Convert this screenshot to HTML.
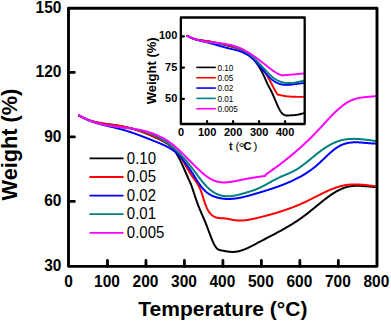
<!DOCTYPE html>
<html><head><meta charset="utf-8"><style>
html,body{margin:0;padding:0;background:#fff;width:391px;height:321px;overflow:hidden;}
svg{display:block;position:absolute;left:0;top:0;}
text{font-family:"Liberation Sans",sans-serif;}
</style></head><body>
<svg width="391" height="321" viewBox="0 0 391 321">
<g fill="none" stroke-width="2" stroke-linejoin="round" stroke-linecap="round">
<path d="M79.00,115.46 L79.50,115.76 L80.00,116.05 L80.50,116.34 L81.00,116.61 L81.50,116.88 L82.00,117.15 L82.50,117.40 L83.00,117.65 L83.50,117.90 L84.00,118.13 L84.50,118.36 L85.00,118.59 L85.50,118.80 L86.00,119.02 L86.50,119.22 L87.00,119.42 L87.50,119.62 L88.00,119.81 L88.50,119.99 L89.00,120.17 L89.50,120.35 L90.00,120.52 L90.50,120.68 L91.00,120.84 L91.50,120.99 L92.00,121.14 L92.50,121.29 L93.00,121.43 L93.50,121.57 L94.00,121.70 L94.50,121.83 L95.00,121.96 L95.50,122.08 L96.00,122.20 L96.50,122.31 L97.00,122.42 L97.50,122.53 L98.00,122.64 L98.50,122.74 L99.00,122.84 L99.50,122.93 L100.00,123.03 L100.50,123.12 L101.00,123.21 L101.50,123.29 L102.00,123.38 L102.50,123.46 L103.00,123.54 L103.50,123.62 L104.00,123.70 L104.50,123.77 L105.00,123.85 L105.50,123.92 L106.00,123.99 L106.50,124.06 L107.00,124.13 L107.50,124.20 L108.00,124.26 L108.50,124.33 L109.00,124.40 L109.50,124.46 L110.00,124.53 L110.50,124.59 L111.00,124.66 L111.50,124.73 L112.00,124.79 L112.50,124.86 L113.00,124.92 L113.50,124.99 L114.00,125.06 L114.50,125.13 L115.00,125.20 L115.50,125.27 L116.00,125.34 L116.50,125.41 L117.00,125.49 L117.50,125.56 L118.00,125.64 L118.50,125.72 L119.00,125.80 L119.50,125.88 L120.00,125.96 L120.50,126.05 L121.00,126.14 L121.50,126.23 L122.00,126.33 L122.50,126.42 L123.00,126.52 L123.50,126.62 L124.00,126.72 L124.50,126.83 L125.00,126.94 L125.50,127.05 L126.00,127.16 L126.50,127.27 L127.00,127.39 L127.50,127.51 L128.00,127.63 L128.50,127.75 L129.00,127.88 L129.50,128.00 L130.00,128.13 L130.50,128.27 L131.00,128.40 L131.50,128.54 L132.00,128.67 L132.50,128.81 L133.00,128.96 L133.50,129.10 L134.00,129.25 L134.50,129.40 L135.00,129.55 L135.50,129.70 L136.00,129.86 L136.50,130.02 L137.00,130.17 L137.50,130.34 L138.00,130.50 L138.50,130.67 L139.00,130.83 L139.50,131.00 L140.00,131.18 L140.50,131.35 L141.00,131.53 L141.50,131.70 L142.00,131.88 L142.50,132.07 L143.00,132.25 L143.50,132.44 L144.00,132.62 L144.50,132.81 L145.00,133.01 L145.50,133.20 L146.00,133.40 L146.50,133.60 L147.00,133.80 L147.50,134.00 L148.00,134.20 L148.50,134.41 L149.00,134.62 L149.50,134.83 L150.00,135.04 L150.50,135.25 L151.00,135.47 L151.50,135.68 L152.00,135.90 L152.50,136.12 L153.00,136.35 L153.50,136.57 L154.00,136.80 L154.50,137.03 L155.00,137.26 L155.50,137.49 L156.00,137.73 L156.50,137.96 L157.00,138.20 L157.50,138.44 L158.00,138.68 L158.50,138.92 L159.00,139.17 L159.50,139.42 L160.00,139.67 L160.50,139.92 L161.00,140.17 L161.50,140.42 L162.00,140.68 L162.50,140.94 L163.00,141.20 L163.50,141.46 L164.00,141.72 L164.50,141.99 L165.00,142.27 L165.50,142.55 L166.00,142.84 L166.50,143.14 L167.00,143.46 L167.50,143.78 L168.00,144.13 L168.50,144.48 L169.00,144.86 L169.50,145.25 L170.00,145.67 L170.50,146.11 L171.00,146.57 L171.50,147.05 L172.00,147.56 L172.50,148.10 L173.00,148.67 L173.50,149.26 L174.00,149.89 L174.50,150.56 L175.00,151.26 L175.50,151.99 L176.00,152.75 L176.50,153.55 L177.00,154.37 L177.50,155.23 L178.00,156.11 L178.50,157.03 L179.00,157.97 L179.50,158.93 L180.00,159.92 L180.50,160.93 L181.00,161.97 L181.50,163.02 L182.00,164.10 L182.50,165.20 L183.00,166.31 L183.50,167.44 L184.00,168.59 L184.50,169.74 L185.00,170.91 L185.50,172.07 L186.00,173.23 L186.50,174.39 L187.00,175.53 L187.50,176.66 L188.00,177.78 L188.50,178.87 L189.00,179.94 L189.50,181.02 L190.00,182.13 L190.50,183.27 L191.00,184.48 L191.50,185.76 L192.00,187.14 L192.50,188.59 L193.00,190.10 L193.50,191.65 L194.00,193.21 L194.50,194.77 L195.00,196.32 L195.50,197.82 L196.00,199.28 L196.50,200.71 L197.00,202.10 L197.50,203.46 L198.00,204.78 L198.50,206.07 L199.00,207.33 L199.50,208.56 L200.00,209.77 L200.50,210.96 L201.00,212.13 L201.50,213.29 L202.00,214.45 L202.50,215.60 L203.00,216.75 L203.50,217.91 L204.00,219.08 L204.50,220.26 L205.00,221.46 L205.50,222.68 L206.00,223.92 L206.50,225.19 L207.00,226.49 L207.50,227.82 L208.00,229.15 L208.50,230.50 L209.00,231.84 L209.50,233.18 L210.00,234.51 L210.50,235.83 L211.00,237.12 L211.50,238.38 L212.00,239.60 L212.50,240.78 L213.00,241.92 L213.50,243.00 L214.00,244.01 L214.50,244.96 L215.00,245.84 L215.50,246.63 L216.00,247.34 L216.50,247.96 L217.00,248.48 L217.50,248.91 L218.00,249.26 L218.50,249.54 L219.00,249.77 L219.50,249.95 L220.00,250.10 L220.50,250.22 L221.00,250.32 L221.50,250.42 L222.00,250.52 L222.50,250.62 L223.00,250.72 L223.50,250.82 L224.00,250.92 L224.50,251.01 L225.00,251.10 L225.50,251.19 L226.00,251.27 L226.50,251.36 L227.00,251.43 L227.50,251.51 L228.00,251.57 L228.50,251.64 L229.00,251.69 L229.50,251.75 L230.00,251.79 L230.50,251.83 L231.00,251.86 L231.50,251.89 L232.00,251.90 L232.50,251.91 L233.00,251.91 L233.50,251.90 L234.00,251.88 L234.50,251.86 L235.00,251.82 L235.50,251.77 L236.00,251.71 L236.50,251.64 L237.00,251.56 L237.50,251.48 L238.00,251.38 L238.50,251.27 L239.00,251.16 L239.50,251.03 L240.00,250.90 L240.50,250.76 L241.00,250.62 L241.50,250.46 L242.00,250.30 L242.50,250.13 L243.00,249.95 L243.50,249.77 L244.00,249.58 L244.50,249.39 L245.00,249.19 L245.50,248.98 L246.00,248.77 L246.50,248.55 L247.00,248.33 L247.50,248.10 L248.00,247.87 L248.50,247.64 L249.00,247.40 L249.50,247.16 L250.00,246.91 L250.50,246.66 L251.00,246.41 L251.50,246.15 L252.00,245.90 L252.50,245.64 L253.00,245.37 L253.50,245.11 L254.00,244.85 L254.50,244.58 L255.00,244.31 L255.50,244.04 L256.00,243.78 L256.50,243.51 L257.00,243.24 L257.50,242.97 L258.00,242.70 L258.50,242.43 L259.00,242.17 L259.50,241.90 L260.00,241.63 L260.50,241.37 L261.00,241.11 L261.50,240.84 L262.00,240.58 L262.50,240.32 L263.00,240.05 L263.50,239.79 L264.00,239.53 L264.50,239.27 L265.00,239.01 L265.50,238.75 L266.00,238.49 L266.50,238.23 L267.00,237.97 L267.50,237.71 L268.00,237.45 L268.50,237.19 L269.00,236.93 L269.50,236.67 L270.00,236.41 L270.50,236.15 L271.00,235.89 L271.50,235.63 L272.00,235.37 L272.50,235.10 L273.00,234.84 L273.50,234.58 L274.00,234.32 L274.50,234.05 L275.00,233.79 L275.50,233.52 L276.00,233.26 L276.50,232.99 L277.00,232.73 L277.50,232.46 L278.00,232.19 L278.50,231.92 L279.00,231.65 L279.50,231.38 L280.00,231.11 L280.50,230.84 L281.00,230.56 L281.50,230.29 L282.00,230.01 L282.50,229.73 L283.00,229.45 L283.50,229.17 L284.00,228.89 L284.50,228.61 L285.00,228.32 L285.50,228.04 L286.00,227.75 L286.50,227.46 L287.00,227.17 L287.50,226.88 L288.00,226.59 L288.50,226.29 L289.00,225.99 L289.50,225.70 L290.00,225.39 L290.50,225.09 L291.00,224.79 L291.50,224.48 L292.00,224.17 L292.50,223.86 L293.00,223.55 L293.50,223.23 L294.00,222.92 L294.50,222.60 L295.00,222.28 L295.50,221.95 L296.00,221.63 L296.50,221.30 L297.00,220.97 L297.50,220.63 L298.00,220.30 L298.50,219.96 L299.00,219.62 L299.50,219.27 L300.00,218.93 L300.50,218.58 L301.00,218.23 L301.50,217.87 L302.00,217.51 L302.50,217.15 L303.00,216.79 L303.50,216.42 L304.00,216.05 L304.50,215.68 L305.00,215.31 L305.50,214.93 L306.00,214.55 L306.50,214.16 L307.00,213.77 L307.50,213.38 L308.00,212.99 L308.50,212.60 L309.00,212.20 L309.50,211.80 L310.00,211.40 L310.50,211.00 L311.00,210.59 L311.50,210.19 L312.00,209.78 L312.50,209.38 L313.00,208.97 L313.50,208.56 L314.00,208.15 L314.50,207.74 L315.00,207.33 L315.50,206.92 L316.00,206.50 L316.50,206.09 L317.00,205.68 L317.50,205.27 L318.00,204.86 L318.50,204.45 L319.00,204.04 L319.50,203.64 L320.00,203.23 L320.50,202.83 L321.00,202.42 L321.50,202.02 L322.00,201.62 L322.50,201.22 L323.00,200.82 L323.50,200.43 L324.00,200.04 L324.50,199.65 L325.00,199.26 L325.50,198.87 L326.00,198.49 L326.50,198.11 L327.00,197.74 L327.50,197.37 L328.00,197.00 L328.50,196.63 L329.00,196.27 L329.50,195.91 L330.00,195.56 L330.50,195.21 L331.00,194.86 L331.50,194.52 L332.00,194.19 L332.50,193.86 L333.00,193.53 L333.50,193.21 L334.00,192.89 L334.50,192.58 L335.00,192.28 L335.50,191.98 L336.00,191.68 L336.50,191.39 L337.00,191.11 L337.50,190.84 L338.00,190.57 L338.50,190.31 L339.00,190.05 L339.50,189.80 L340.00,189.56 L340.50,189.32 L341.00,189.10 L341.50,188.88 L342.00,188.66 L342.50,188.46 L343.00,188.26 L343.50,188.07 L344.00,187.89 L344.50,187.72 L345.00,187.55 L345.50,187.40 L346.00,187.25 L346.50,187.11 L347.00,186.98 L347.50,186.86 L348.00,186.74 L348.50,186.63 L349.00,186.53 L349.50,186.44 L350.00,186.35 L350.50,186.27 L351.00,186.20 L351.50,186.13 L352.00,186.07 L352.50,186.02 L353.00,185.97 L353.50,185.93 L354.00,185.90 L354.50,185.86 L355.00,185.84 L355.50,185.82 L356.00,185.80 L356.50,185.79 L357.00,185.78 L357.50,185.78 L358.00,185.78 L358.50,185.79 L359.00,185.80 L359.50,185.81 L360.00,185.83 L360.50,185.85 L361.00,185.87 L361.50,185.90 L362.00,185.93 L362.50,185.96 L363.00,185.99 L363.50,186.03 L364.00,186.07 L364.50,186.11 L365.00,186.15 L365.50,186.19 L366.00,186.23 L366.50,186.28 L367.00,186.33 L367.50,186.37 L368.00,186.42 L368.50,186.47 L369.00,186.52 L369.50,186.56 L370.00,186.61 L370.50,186.66 L371.00,186.71 L371.50,186.75 L372.00,186.80 L372.50,186.84 L373.00,186.89 L373.50,186.93 L374.00,186.97 L374.50,187.01 L375.00,187.05 L375.30,187.07" stroke="#000000"/>
<path d="M79.00,115.52 L79.50,115.81 L80.00,116.09 L80.50,116.37 L81.00,116.64 L81.50,116.90 L82.00,117.15 L82.50,117.40 L83.00,117.64 L83.50,117.88 L84.00,118.11 L84.50,118.33 L85.00,118.55 L85.50,118.76 L86.00,118.97 L86.50,119.17 L87.00,119.37 L87.50,119.56 L88.00,119.74 L88.50,119.92 L89.00,120.10 L89.50,120.27 L90.00,120.44 L90.50,120.60 L91.00,120.75 L91.50,120.91 L92.00,121.05 L92.50,121.20 L93.00,121.34 L93.50,121.47 L94.00,121.61 L94.50,121.73 L95.00,121.86 L95.50,121.98 L96.00,122.10 L96.50,122.21 L97.00,122.32 L97.50,122.43 L98.00,122.54 L98.50,122.64 L99.00,122.74 L99.50,122.84 L100.00,122.93 L100.50,123.02 L101.00,123.11 L101.50,123.20 L102.00,123.29 L102.50,123.37 L103.00,123.45 L103.50,123.53 L104.00,123.61 L104.50,123.69 L105.00,123.76 L105.50,123.84 L106.00,123.91 L106.50,123.98 L107.00,124.05 L107.50,124.12 L108.00,124.19 L108.50,124.26 L109.00,124.33 L109.50,124.39 L110.00,124.46 L110.50,124.53 L111.00,124.60 L111.50,124.66 L112.00,124.73 L112.50,124.80 L113.00,124.86 L113.50,124.93 L114.00,125.00 L114.50,125.07 L115.00,125.14 L115.50,125.21 L116.00,125.28 L116.50,125.36 L117.00,125.43 L117.50,125.51 L118.00,125.59 L118.50,125.66 L119.00,125.74 L119.50,125.83 L120.00,125.91 L120.50,126.00 L121.00,126.09 L121.50,126.18 L122.00,126.27 L122.50,126.36 L123.00,126.46 L123.50,126.56 L124.00,126.66 L124.50,126.76 L125.00,126.87 L125.50,126.98 L126.00,127.09 L126.50,127.20 L127.00,127.31 L127.50,127.43 L128.00,127.54 L128.50,127.66 L129.00,127.78 L129.50,127.91 L130.00,128.03 L130.50,128.16 L131.00,128.29 L131.50,128.42 L132.00,128.56 L132.50,128.70 L133.00,128.83 L133.50,128.97 L134.00,129.12 L134.50,129.26 L135.00,129.41 L135.50,129.56 L136.00,129.71 L136.50,129.86 L137.00,130.01 L137.50,130.17 L138.00,130.33 L138.50,130.49 L139.00,130.65 L139.50,130.82 L140.00,130.98 L140.50,131.15 L141.00,131.32 L141.50,131.49 L142.00,131.67 L142.50,131.84 L143.00,132.02 L143.50,132.20 L144.00,132.39 L144.50,132.57 L145.00,132.76 L145.50,132.95 L146.00,133.14 L146.50,133.33 L147.00,133.52 L147.50,133.72 L148.00,133.92 L148.50,134.12 L149.00,134.32 L149.50,134.52 L150.00,134.73 L150.50,134.94 L151.00,135.15 L151.50,135.36 L152.00,135.57 L152.50,135.79 L153.00,136.01 L153.50,136.22 L154.00,136.45 L154.50,136.67 L155.00,136.89 L155.50,137.12 L156.00,137.35 L156.50,137.58 L157.00,137.81 L157.50,138.05 L158.00,138.29 L158.50,138.52 L159.00,138.76 L159.50,139.01 L160.00,139.25 L160.50,139.50 L161.00,139.75 L161.50,140.00 L162.00,140.25 L162.50,140.51 L163.00,140.77 L163.50,141.04 L164.00,141.32 L164.50,141.60 L165.00,141.88 L165.50,142.18 L166.00,142.48 L166.50,142.79 L167.00,143.11 L167.50,143.43 L168.00,143.77 L168.50,144.12 L169.00,144.48 L169.50,144.85 L170.00,145.23 L170.50,145.62 L171.00,146.03 L171.50,146.45 L172.00,146.89 L172.50,147.34 L173.00,147.80 L173.50,148.28 L174.00,148.78 L174.50,149.29 L175.00,149.82 L175.50,150.37 L176.00,150.94 L176.50,151.52 L177.00,152.12 L177.50,152.75 L178.00,153.39 L178.50,154.06 L179.00,154.74 L179.50,155.45 L180.00,156.18 L180.50,156.94 L181.00,157.71 L181.50,158.51 L182.00,159.32 L182.50,160.14 L183.00,160.98 L183.50,161.83 L184.00,162.69 L184.50,163.55 L185.00,164.42 L185.50,165.29 L186.00,166.17 L186.50,167.04 L187.00,167.91 L187.50,168.78 L188.00,169.63 L188.50,170.48 L189.00,171.32 L189.50,172.14 L190.00,172.95 L190.50,173.74 L191.00,174.51 L191.50,175.26 L192.00,175.99 L192.50,176.70 L193.00,177.38 L193.50,178.05 L194.00,178.72 L194.50,179.39 L195.00,180.07 L195.50,180.76 L196.00,181.47 L196.50,182.21 L197.00,182.98 L197.50,183.80 L198.00,184.66 L198.50,185.57 L199.00,186.55 L199.50,187.59 L200.00,188.71 L200.50,189.91 L201.00,191.19 L201.50,192.55 L202.00,194.00 L202.50,195.52 L203.00,197.12 L203.50,198.74 L204.00,200.34 L204.50,201.89 L205.00,203.34 L205.50,204.71 L206.00,205.99 L206.50,207.18 L207.00,208.28 L207.50,209.30 L208.00,210.24 L208.50,211.09 L209.00,211.86 L209.50,212.56 L210.00,213.19 L210.50,213.76 L211.00,214.28 L211.50,214.75 L212.00,215.17 L212.50,215.56 L213.00,215.92 L213.50,216.23 L214.00,216.52 L214.50,216.78 L215.00,217.01 L215.50,217.21 L216.00,217.38 L216.50,217.54 L217.00,217.67 L217.50,217.78 L218.00,217.88 L218.50,217.96 L219.00,218.02 L219.50,218.08 L220.00,218.12 L220.50,218.16 L221.00,218.19 L221.50,218.21 L222.00,218.24 L222.50,218.26 L223.00,218.28 L223.50,218.31 L224.00,218.34 L224.50,218.38 L225.00,218.42 L225.50,218.48 L226.00,218.54 L226.50,218.62 L227.00,218.70 L227.50,218.78 L228.00,218.87 L228.50,218.97 L229.00,219.07 L229.50,219.17 L230.00,219.27 L230.50,219.38 L231.00,219.48 L231.50,219.59 L232.00,219.69 L232.50,219.79 L233.00,219.89 L233.50,219.98 L234.00,220.07 L234.50,220.15 L235.00,220.22 L235.50,220.29 L236.00,220.35 L236.50,220.40 L237.00,220.45 L237.50,220.48 L238.00,220.51 L238.50,220.54 L239.00,220.55 L239.50,220.56 L240.00,220.56 L240.50,220.56 L241.00,220.55 L241.50,220.54 L242.00,220.52 L242.50,220.49 L243.00,220.46 L243.50,220.42 L244.00,220.38 L244.50,220.33 L245.00,220.28 L245.50,220.23 L246.00,220.16 L246.50,220.10 L247.00,220.03 L247.50,219.96 L248.00,219.88 L248.50,219.80 L249.00,219.71 L249.50,219.62 L250.00,219.53 L250.50,219.44 L251.00,219.34 L251.50,219.24 L252.00,219.14 L252.50,219.03 L253.00,218.93 L253.50,218.82 L254.00,218.70 L254.50,218.59 L255.00,218.48 L255.50,218.36 L256.00,218.24 L256.50,218.12 L257.00,218.00 L257.50,217.88 L258.00,217.76 L258.50,217.64 L259.00,217.51 L259.50,217.39 L260.00,217.27 L260.50,217.14 L261.00,217.02 L261.50,216.89 L262.00,216.76 L262.50,216.64 L263.00,216.51 L263.50,216.38 L264.00,216.25 L264.50,216.12 L265.00,215.99 L265.50,215.86 L266.00,215.73 L266.50,215.60 L267.00,215.47 L267.50,215.33 L268.00,215.20 L268.50,215.06 L269.00,214.93 L269.50,214.79 L270.00,214.65 L270.50,214.52 L271.00,214.38 L271.50,214.24 L272.00,214.10 L272.50,213.95 L273.00,213.81 L273.50,213.67 L274.00,213.52 L274.50,213.38 L275.00,213.23 L275.50,213.08 L276.00,212.94 L276.50,212.79 L277.00,212.64 L277.50,212.48 L278.00,212.33 L278.50,212.18 L279.00,212.02 L279.50,211.87 L280.00,211.71 L280.50,211.55 L281.00,211.39 L281.50,211.23 L282.00,211.07 L282.50,210.91 L283.00,210.74 L283.50,210.58 L284.00,210.41 L284.50,210.24 L285.00,210.07 L285.50,209.90 L286.00,209.73 L286.50,209.56 L287.00,209.38 L287.50,209.21 L288.00,209.03 L288.50,208.85 L289.00,208.67 L289.50,208.49 L290.00,208.31 L290.50,208.12 L291.00,207.94 L291.50,207.75 L292.00,207.56 L292.50,207.37 L293.00,207.18 L293.50,206.99 L294.00,206.79 L294.50,206.60 L295.00,206.40 L295.50,206.20 L296.00,206.00 L296.50,205.80 L297.00,205.59 L297.50,205.38 L298.00,205.18 L298.50,204.97 L299.00,204.76 L299.50,204.54 L300.00,204.33 L300.50,204.11 L301.00,203.89 L301.50,203.67 L302.00,203.45 L302.50,203.23 L303.00,203.00 L303.50,202.78 L304.00,202.55 L304.50,202.31 L305.00,202.08 L305.50,201.85 L306.00,201.61 L306.50,201.37 L307.00,201.13 L307.50,200.89 L308.00,200.65 L308.50,200.40 L309.00,200.16 L309.50,199.91 L310.00,199.66 L310.50,199.41 L311.00,199.16 L311.50,198.91 L312.00,198.66 L312.50,198.41 L313.00,198.16 L313.50,197.91 L314.00,197.65 L314.50,197.40 L315.00,197.15 L315.50,196.89 L316.00,196.64 L316.50,196.39 L317.00,196.13 L317.50,195.88 L318.00,195.63 L318.50,195.38 L319.00,195.12 L319.50,194.87 L320.00,194.62 L320.50,194.38 L321.00,194.13 L321.50,193.88 L322.00,193.64 L322.50,193.39 L323.00,193.15 L323.50,192.91 L324.00,192.67 L324.50,192.43 L325.00,192.19 L325.50,191.96 L326.00,191.72 L326.50,191.49 L327.00,191.26 L327.50,191.04 L328.00,190.81 L328.50,190.59 L329.00,190.37 L329.50,190.16 L330.00,189.94 L330.50,189.73 L331.00,189.52 L331.50,189.31 L332.00,189.11 L332.50,188.91 L333.00,188.72 L333.50,188.52 L334.00,188.33 L334.50,188.15 L335.00,187.96 L335.50,187.79 L336.00,187.61 L336.50,187.44 L337.00,187.27 L337.50,187.11 L338.00,186.95 L338.50,186.79 L339.00,186.64 L339.50,186.50 L340.00,186.36 L340.50,186.22 L341.00,186.09 L341.50,185.96 L342.00,185.84 L342.50,185.72 L343.00,185.61 L343.50,185.50 L344.00,185.40 L344.50,185.30 L345.00,185.21 L345.50,185.12 L346.00,185.04 L346.50,184.97 L347.00,184.90 L347.50,184.84 L348.00,184.78 L348.50,184.72 L349.00,184.67 L349.50,184.63 L350.00,184.59 L350.50,184.55 L351.00,184.52 L351.50,184.49 L352.00,184.47 L352.50,184.45 L353.00,184.44 L353.50,184.43 L354.00,184.42 L354.50,184.42 L355.00,184.42 L355.50,184.42 L356.00,184.43 L356.50,184.44 L357.00,184.45 L357.50,184.47 L358.00,184.49 L358.50,184.51 L359.00,184.54 L359.50,184.56 L360.00,184.59 L360.50,184.63 L361.00,184.66 L361.50,184.70 L362.00,184.74 L362.50,184.78 L363.00,184.82 L363.50,184.87 L364.00,184.92 L364.50,184.96 L365.00,185.01 L365.50,185.07 L366.00,185.12 L366.50,185.17 L367.00,185.23 L367.50,185.28 L368.00,185.34 L368.50,185.40 L369.00,185.45 L369.50,185.51 L370.00,185.57 L370.50,185.63 L371.00,185.69 L371.50,185.75 L372.00,185.81 L372.50,185.87 L373.00,185.93 L373.50,185.99 L374.00,186.05 L374.50,186.10 L375.00,186.16 L375.30,186.20" stroke="#ff0000"/>
<path d="M79.00,115.46 L79.50,115.75 L80.00,116.04 L80.50,116.33 L81.00,116.61 L81.50,116.89 L82.00,117.15 L82.50,117.42 L83.00,117.68 L83.50,117.93 L84.00,118.18 L84.50,118.43 L85.00,118.66 L85.50,118.90 L86.00,119.13 L86.50,119.36 L87.00,119.58 L87.50,119.79 L88.00,120.01 L88.50,120.21 L89.00,120.42 L89.50,120.62 L90.00,120.81 L90.50,121.01 L91.00,121.20 L91.50,121.38 L92.00,121.56 L92.50,121.74 L93.00,121.92 L93.50,122.09 L94.00,122.26 L94.50,122.42 L95.00,122.59 L95.50,122.75 L96.00,122.90 L96.50,123.06 L97.00,123.21 L97.50,123.36 L98.00,123.51 L98.50,123.65 L99.00,123.79 L99.50,123.93 L100.00,124.07 L100.50,124.21 L101.00,124.34 L101.50,124.47 L102.00,124.61 L102.50,124.73 L103.00,124.86 L103.50,124.99 L104.00,125.11 L104.50,125.24 L105.00,125.36 L105.50,125.48 L106.00,125.60 L106.50,125.72 L107.00,125.84 L107.50,125.96 L108.00,126.08 L108.50,126.20 L109.00,126.31 L109.50,126.43 L110.00,126.55 L110.50,126.66 L111.00,126.78 L111.50,126.90 L112.00,127.01 L112.50,127.13 L113.00,127.25 L113.50,127.37 L114.00,127.49 L114.50,127.60 L115.00,127.72 L115.50,127.85 L116.00,127.97 L116.50,128.09 L117.00,128.21 L117.50,128.34 L118.00,128.46 L118.50,128.59 L119.00,128.72 L119.50,128.85 L120.00,128.98 L120.50,129.12 L121.00,129.25 L121.50,129.39 L122.00,129.53 L122.50,129.67 L123.00,129.81 L123.50,129.96 L124.00,130.10 L124.50,130.25 L125.00,130.40 L125.50,130.55 L126.00,130.70 L126.50,130.86 L127.00,131.01 L127.50,131.17 L128.00,131.33 L128.50,131.49 L129.00,131.65 L129.50,131.81 L130.00,131.97 L130.50,132.14 L131.00,132.31 L131.50,132.48 L132.00,132.64 L132.50,132.82 L133.00,132.99 L133.50,133.16 L134.00,133.33 L134.50,133.51 L135.00,133.69 L135.50,133.86 L136.00,134.04 L136.50,134.22 L137.00,134.40 L137.50,134.58 L138.00,134.77 L138.50,134.95 L139.00,135.13 L139.50,135.32 L140.00,135.51 L140.50,135.69 L141.00,135.88 L141.50,136.07 L142.00,136.26 L142.50,136.45 L143.00,136.64 L143.50,136.83 L144.00,137.02 L144.50,137.22 L145.00,137.41 L145.50,137.60 L146.00,137.80 L146.50,137.99 L147.00,138.19 L147.50,138.39 L148.00,138.58 L148.50,138.78 L149.00,138.98 L149.50,139.18 L150.00,139.37 L150.50,139.57 L151.00,139.77 L151.50,139.97 L152.00,140.17 L152.50,140.37 L153.00,140.57 L153.50,140.77 L154.00,140.97 L154.50,141.17 L155.00,141.37 L155.50,141.57 L156.00,141.77 L156.50,141.97 L157.00,142.17 L157.50,142.38 L158.00,142.58 L158.50,142.78 L159.00,142.99 L159.50,143.20 L160.00,143.41 L160.50,143.62 L161.00,143.83 L161.50,144.05 L162.00,144.27 L162.50,144.49 L163.00,144.71 L163.50,144.94 L164.00,145.18 L164.50,145.41 L165.00,145.65 L165.50,145.90 L166.00,146.14 L166.50,146.40 L167.00,146.66 L167.50,146.92 L168.00,147.19 L168.50,147.46 L169.00,147.75 L169.50,148.03 L170.00,148.33 L170.50,148.63 L171.00,148.93 L171.50,149.25 L172.00,149.57 L172.50,149.89 L173.00,150.23 L173.50,150.57 L174.00,150.93 L174.50,151.29 L175.00,151.66 L175.50,152.04 L176.00,152.43 L176.50,152.83 L177.00,153.25 L177.50,153.69 L178.00,154.15 L178.50,154.63 L179.00,155.13 L179.50,155.66 L180.00,156.21 L180.50,156.79 L181.00,157.39 L181.50,158.02 L182.00,158.66 L182.50,159.31 L183.00,159.98 L183.50,160.65 L184.00,161.33 L184.50,162.00 L185.00,162.68 L185.50,163.34 L186.00,164.00 L186.50,164.66 L187.00,165.32 L187.50,165.98 L188.00,166.65 L188.50,167.32 L189.00,168.01 L189.50,168.72 L190.00,169.44 L190.50,170.17 L191.00,170.93 L191.50,171.69 L192.00,172.47 L192.50,173.25 L193.00,174.05 L193.50,174.85 L194.00,175.65 L194.50,176.46 L195.00,177.27 L195.50,178.07 L196.00,178.88 L196.50,179.67 L197.00,180.46 L197.50,181.24 L198.00,182.01 L198.50,182.77 L199.00,183.51 L199.50,184.24 L200.00,184.95 L200.50,185.63 L201.00,186.30 L201.50,186.94 L202.00,187.56 L202.50,188.15 L203.00,188.72 L203.50,189.26 L204.00,189.79 L204.50,190.29 L205.00,190.77 L205.50,191.23 L206.00,191.67 L206.50,192.09 L207.00,192.49 L207.50,192.87 L208.00,193.24 L208.50,193.59 L209.00,193.92 L209.50,194.23 L210.00,194.53 L210.50,194.82 L211.00,195.09 L211.50,195.34 L212.00,195.59 L212.50,195.82 L213.00,196.04 L213.50,196.25 L214.00,196.45 L214.50,196.63 L215.00,196.81 L215.50,196.98 L216.00,197.14 L216.50,197.30 L217.00,197.44 L217.50,197.58 L218.00,197.71 L218.50,197.83 L219.00,197.95 L219.50,198.06 L220.00,198.16 L220.50,198.26 L221.00,198.35 L221.50,198.43 L222.00,198.51 L222.50,198.58 L223.00,198.65 L223.50,198.70 L224.00,198.76 L224.50,198.80 L225.00,198.84 L225.50,198.88 L226.00,198.90 L226.50,198.93 L227.00,198.94 L227.50,198.96 L228.00,198.96 L228.50,198.96 L229.00,198.96 L229.50,198.95 L230.00,198.94 L230.50,198.92 L231.00,198.89 L231.50,198.86 L232.00,198.83 L232.50,198.79 L233.00,198.75 L233.50,198.70 L234.00,198.65 L234.50,198.60 L235.00,198.54 L235.50,198.48 L236.00,198.41 L236.50,198.34 L237.00,198.26 L237.50,198.19 L238.00,198.10 L238.50,198.02 L239.00,197.93 L239.50,197.84 L240.00,197.74 L240.50,197.65 L241.00,197.54 L241.50,197.44 L242.00,197.33 L242.50,197.22 L243.00,197.11 L243.50,197.00 L244.00,196.88 L244.50,196.76 L245.00,196.64 L245.50,196.52 L246.00,196.39 L246.50,196.26 L247.00,196.13 L247.50,196.00 L248.00,195.87 L248.50,195.73 L249.00,195.60 L249.50,195.46 L250.00,195.32 L250.50,195.18 L251.00,195.04 L251.50,194.90 L252.00,194.75 L252.50,194.61 L253.00,194.46 L253.50,194.32 L254.00,194.17 L254.50,194.03 L255.00,193.88 L255.50,193.73 L256.00,193.58 L256.50,193.43 L257.00,193.29 L257.50,193.14 L258.00,192.99 L258.50,192.84 L259.00,192.69 L259.50,192.54 L260.00,192.39 L260.50,192.24 L261.00,192.09 L261.50,191.94 L262.00,191.79 L262.50,191.64 L263.00,191.49 L263.50,191.34 L264.00,191.19 L264.50,191.03 L265.00,190.88 L265.50,190.72 L266.00,190.57 L266.50,190.41 L267.00,190.26 L267.50,190.10 L268.00,189.94 L268.50,189.78 L269.00,189.62 L269.50,189.46 L270.00,189.30 L270.50,189.14 L271.00,188.98 L271.50,188.81 L272.00,188.65 L272.50,188.48 L273.00,188.32 L273.50,188.15 L274.00,187.98 L274.50,187.81 L275.00,187.64 L275.50,187.46 L276.00,187.29 L276.50,187.11 L277.00,186.94 L277.50,186.76 L278.00,186.58 L278.50,186.40 L279.00,186.22 L279.50,186.03 L280.00,185.85 L280.50,185.66 L281.00,185.47 L281.50,185.28 L282.00,185.09 L282.50,184.90 L283.00,184.70 L283.50,184.51 L284.00,184.31 L284.50,184.11 L285.00,183.91 L285.50,183.70 L286.00,183.50 L286.50,183.29 L287.00,183.08 L287.50,182.87 L288.00,182.66 L288.50,182.44 L289.00,182.23 L289.50,182.01 L290.00,181.78 L290.50,181.56 L291.00,181.34 L291.50,181.11 L292.00,180.88 L292.50,180.65 L293.00,180.41 L293.50,180.18 L294.00,179.94 L294.50,179.70 L295.00,179.45 L295.50,179.21 L296.00,178.96 L296.50,178.71 L297.00,178.45 L297.50,178.20 L298.00,177.94 L298.50,177.68 L299.00,177.41 L299.50,177.14 L300.00,176.87 L300.50,176.60 L301.00,176.32 L301.50,176.04 L302.00,175.76 L302.50,175.47 L303.00,175.18 L303.50,174.88 L304.00,174.58 L304.50,174.28 L305.00,173.97 L305.50,173.66 L306.00,173.35 L306.50,173.03 L307.00,172.70 L307.50,172.37 L308.00,172.04 L308.50,171.70 L309.00,171.36 L309.50,171.01 L310.00,170.66 L310.50,170.30 L311.00,169.94 L311.50,169.57 L312.00,169.20 L312.50,168.82 L313.00,168.44 L313.50,168.05 L314.00,167.65 L314.50,167.25 L315.00,166.85 L315.50,166.43 L316.00,166.02 L316.50,165.59 L317.00,165.16 L317.50,164.72 L318.00,164.28 L318.50,163.83 L319.00,163.38 L319.50,162.92 L320.00,162.46 L320.50,161.99 L321.00,161.52 L321.50,161.05 L322.00,160.58 L322.50,160.10 L323.00,159.63 L323.50,159.15 L324.00,158.67 L324.50,158.19 L325.00,157.71 L325.50,157.24 L326.00,156.76 L326.50,156.29 L327.00,155.81 L327.50,155.34 L328.00,154.88 L328.50,154.41 L329.00,153.95 L329.50,153.50 L330.00,153.05 L330.50,152.60 L331.00,152.16 L331.50,151.73 L332.00,151.30 L332.50,150.88 L333.00,150.47 L333.50,150.07 L334.00,149.67 L334.50,149.29 L335.00,148.91 L335.50,148.54 L336.00,148.18 L336.50,147.84 L337.00,147.50 L337.50,147.17 L338.00,146.86 L338.50,146.56 L339.00,146.27 L339.50,146.00 L340.00,145.73 L340.50,145.48 L341.00,145.24 L341.50,145.01 L342.00,144.79 L342.50,144.59 L343.00,144.39 L343.50,144.21 L344.00,144.03 L344.50,143.86 L345.00,143.71 L345.50,143.56 L346.00,143.43 L346.50,143.30 L347.00,143.18 L347.50,143.07 L348.00,142.97 L348.50,142.87 L349.00,142.79 L349.50,142.71 L350.00,142.64 L350.50,142.58 L351.00,142.52 L351.50,142.47 L352.00,142.43 L352.50,142.39 L353.00,142.36 L353.50,142.33 L354.00,142.32 L354.50,142.30 L355.00,142.29 L355.50,142.29 L356.00,142.29 L356.50,142.30 L357.00,142.31 L357.50,142.32 L358.00,142.34 L358.50,142.36 L359.00,142.38 L359.50,142.41 L360.00,142.44 L360.50,142.47 L361.00,142.51 L361.50,142.55 L362.00,142.59 L362.50,142.63 L363.00,142.67 L363.50,142.71 L364.00,142.76 L364.50,142.81 L365.00,142.85 L365.50,142.90 L366.00,142.95 L366.50,142.99 L367.00,143.04 L367.50,143.09 L368.00,143.13 L368.50,143.17 L369.00,143.22 L369.50,143.26 L370.00,143.30 L370.50,143.34 L371.00,143.37 L371.50,143.40 L372.00,143.43 L372.50,143.46 L373.00,143.49 L373.50,143.51 L374.00,143.52 L374.50,143.54 L375.00,143.55 L375.50,143.55" stroke="#0000ff"/>
<path d="M79.00,115.41 L79.50,115.71 L80.00,116.00 L80.50,116.29 L81.00,116.57 L81.50,116.85 L82.00,117.12 L82.50,117.38 L83.00,117.64 L83.50,117.90 L84.00,118.15 L84.50,118.39 L85.00,118.63 L85.50,118.87 L86.00,119.10 L86.50,119.32 L87.00,119.54 L87.50,119.76 L88.00,119.97 L88.50,120.18 L89.00,120.38 L89.50,120.58 L90.00,120.77 L90.50,120.96 L91.00,121.14 L91.50,121.32 L92.00,121.50 L92.50,121.67 L93.00,121.84 L93.50,122.00 L94.00,122.17 L94.50,122.32 L95.00,122.48 L95.50,122.63 L96.00,122.77 L96.50,122.92 L97.00,123.06 L97.50,123.19 L98.00,123.33 L98.50,123.46 L99.00,123.58 L99.50,123.71 L100.00,123.83 L100.50,123.95 L101.00,124.06 L101.50,124.18 L102.00,124.29 L102.50,124.39 L103.00,124.50 L103.50,124.60 L104.00,124.70 L104.50,124.80 L105.00,124.90 L105.50,124.99 L106.00,125.08 L106.50,125.17 L107.00,125.26 L107.50,125.35 L108.00,125.43 L108.50,125.51 L109.00,125.59 L109.50,125.67 L110.00,125.75 L110.50,125.83 L111.00,125.90 L111.50,125.98 L112.00,126.05 L112.50,126.12 L113.00,126.19 L113.50,126.26 L114.00,126.33 L114.50,126.40 L115.00,126.46 L115.50,126.53 L116.00,126.59 L116.50,126.66 L117.00,126.72 L117.50,126.79 L118.00,126.85 L118.50,126.92 L119.00,126.98 L119.50,127.04 L120.00,127.10 L120.50,127.17 L121.00,127.23 L121.50,127.29 L122.00,127.36 L122.50,127.42 L123.00,127.48 L123.50,127.55 L124.00,127.61 L124.50,127.68 L125.00,127.74 L125.50,127.81 L126.00,127.88 L126.50,127.95 L127.00,128.02 L127.50,128.09 L128.00,128.16 L128.50,128.23 L129.00,128.31 L129.50,128.38 L130.00,128.46 L130.50,128.53 L131.00,128.61 L131.50,128.69 L132.00,128.78 L132.50,128.86 L133.00,128.95 L133.50,129.04 L134.00,129.13 L134.50,129.22 L135.00,129.31 L135.50,129.41 L136.00,129.50 L136.50,129.61 L137.00,129.71 L137.50,129.81 L138.00,129.92 L138.50,130.03 L139.00,130.14 L139.50,130.26 L140.00,130.38 L140.50,130.50 L141.00,130.62 L141.50,130.75 L142.00,130.88 L142.50,131.01 L143.00,131.15 L143.50,131.29 L144.00,131.43 L144.50,131.58 L145.00,131.73 L145.50,131.88 L146.00,132.04 L146.50,132.20 L147.00,132.37 L147.50,132.54 L148.00,132.71 L148.50,132.88 L149.00,133.06 L149.50,133.25 L150.00,133.44 L150.50,133.63 L151.00,133.83 L151.50,134.03 L152.00,134.24 L152.50,134.45 L153.00,134.66 L153.50,134.88 L154.00,135.11 L154.50,135.34 L155.00,135.57 L155.50,135.81 L156.00,136.06 L156.50,136.31 L157.00,136.56 L157.50,136.82 L158.00,137.09 L158.50,137.36 L159.00,137.63 L159.50,137.91 L160.00,138.20 L160.50,138.49 L161.00,138.79 L161.50,139.09 L162.00,139.39 L162.50,139.71 L163.00,140.02 L163.50,140.35 L164.00,140.67 L164.50,141.01 L165.00,141.34 L165.50,141.69 L166.00,142.04 L166.50,142.39 L167.00,142.75 L167.50,143.12 L168.00,143.49 L168.50,143.86 L169.00,144.24 L169.50,144.63 L170.00,145.02 L170.50,145.42 L171.00,145.83 L171.50,146.23 L172.00,146.65 L172.50,147.07 L173.00,147.49 L173.50,147.92 L174.00,148.36 L174.50,148.80 L175.00,149.25 L175.50,149.71 L176.00,150.16 L176.50,150.63 L177.00,151.10 L177.50,151.58 L178.00,152.06 L178.50,152.55 L179.00,153.04 L179.50,153.54 L180.00,154.04 L180.50,154.55 L181.00,155.07 L181.50,155.59 L182.00,156.12 L182.50,156.66 L183.00,157.20 L183.50,157.74 L184.00,158.29 L184.50,158.85 L185.00,159.42 L185.50,159.99 L186.00,160.56 L186.50,161.14 L187.00,161.73 L187.50,162.32 L188.00,162.92 L188.50,163.53 L189.00,164.14 L189.50,164.76 L190.00,165.38 L190.50,166.01 L191.00,166.65 L191.50,167.29 L192.00,167.94 L192.50,168.59 L193.00,169.25 L193.50,169.92 L194.00,170.58 L194.50,171.25 L195.00,171.93 L195.50,172.60 L196.00,173.28 L196.50,173.96 L197.00,174.63 L197.50,175.31 L198.00,175.98 L198.50,176.65 L199.00,177.31 L199.50,177.97 L200.00,178.63 L200.50,179.28 L201.00,179.92 L201.50,180.56 L202.00,181.19 L202.50,181.80 L203.00,182.41 L203.50,183.01 L204.00,183.60 L204.50,184.17 L205.00,184.74 L205.50,185.29 L206.00,185.82 L206.50,186.34 L207.00,186.85 L207.50,187.34 L208.00,187.81 L208.50,188.27 L209.00,188.72 L209.50,189.15 L210.00,189.57 L210.50,189.97 L211.00,190.36 L211.50,190.74 L212.00,191.10 L212.50,191.45 L213.00,191.79 L213.50,192.11 L214.00,192.42 L214.50,192.72 L215.00,193.00 L215.50,193.27 L216.00,193.53 L216.50,193.78 L217.00,194.01 L217.50,194.23 L218.00,194.44 L218.50,194.64 L219.00,194.82 L219.50,194.99 L220.00,195.16 L220.50,195.31 L221.00,195.45 L221.50,195.57 L222.00,195.69 L222.50,195.79 L223.00,195.89 L223.50,195.97 L224.00,196.05 L224.50,196.11 L225.00,196.16 L225.50,196.21 L226.00,196.24 L226.50,196.27 L227.00,196.28 L227.50,196.29 L228.00,196.29 L228.50,196.28 L229.00,196.27 L229.50,196.24 L230.00,196.21 L230.50,196.17 L231.00,196.13 L231.50,196.07 L232.00,196.02 L232.50,195.95 L233.00,195.88 L233.50,195.80 L234.00,195.72 L234.50,195.63 L235.00,195.54 L235.50,195.44 L236.00,195.34 L236.50,195.23 L237.00,195.12 L237.50,195.00 L238.00,194.89 L238.50,194.76 L239.00,194.64 L239.50,194.51 L240.00,194.38 L240.50,194.24 L241.00,194.11 L241.50,193.97 L242.00,193.83 L242.50,193.69 L243.00,193.55 L243.50,193.40 L244.00,193.26 L244.50,193.11 L245.00,192.97 L245.50,192.82 L246.00,192.67 L246.50,192.53 L247.00,192.38 L247.50,192.23 L248.00,192.08 L248.50,191.93 L249.00,191.78 L249.50,191.63 L250.00,191.48 L250.50,191.32 L251.00,191.16 L251.50,191.00 L252.00,190.83 L252.50,190.67 L253.00,190.49 L253.50,190.32 L254.00,190.14 L254.50,189.96 L255.00,189.77 L255.50,189.58 L256.00,189.38 L256.50,189.18 L257.00,188.98 L257.50,188.76 L258.00,188.55 L258.50,188.33 L259.00,188.10 L259.50,187.87 L260.00,187.64 L260.50,187.40 L261.00,187.15 L261.50,186.91 L262.00,186.66 L262.50,186.40 L263.00,186.14 L263.50,185.88 L264.00,185.62 L264.50,185.35 L265.00,185.08 L265.50,184.81 L266.00,184.54 L266.50,184.26 L267.00,183.99 L267.50,183.71 L268.00,183.43 L268.50,183.15 L269.00,182.87 L269.50,182.59 L270.00,182.31 L270.50,182.03 L271.00,181.76 L271.50,181.48 L272.00,181.20 L272.50,180.93 L273.00,180.65 L273.50,180.38 L274.00,180.12 L274.50,179.85 L275.00,179.59 L275.50,179.33 L276.00,179.07 L276.50,178.81 L277.00,178.57 L277.50,178.32 L278.00,178.08 L278.50,177.84 L279.00,177.61 L279.50,177.38 L280.00,177.16 L280.50,176.93 L281.00,176.71 L281.50,176.50 L282.00,176.28 L282.50,176.07 L283.00,175.86 L283.50,175.65 L284.00,175.44 L284.50,175.23 L285.00,175.03 L285.50,174.82 L286.00,174.61 L286.50,174.40 L287.00,174.19 L287.50,173.98 L288.00,173.76 L288.50,173.55 L289.00,173.33 L289.50,173.11 L290.00,172.88 L290.50,172.65 L291.00,172.42 L291.50,172.18 L292.00,171.94 L292.50,171.70 L293.00,171.44 L293.50,171.19 L294.00,170.93 L294.50,170.66 L295.00,170.38 L295.50,170.10 L296.00,169.81 L296.50,169.51 L297.00,169.21 L297.50,168.89 L298.00,168.57 L298.50,168.25 L299.00,167.92 L299.50,167.58 L300.00,167.24 L300.50,166.89 L301.00,166.53 L301.50,166.17 L302.00,165.81 L302.50,165.44 L303.00,165.06 L303.50,164.68 L304.00,164.30 L304.50,163.91 L305.00,163.53 L305.50,163.13 L306.00,162.74 L306.50,162.34 L307.00,161.94 L307.50,161.53 L308.00,161.13 L308.50,160.72 L309.00,160.32 L309.50,159.91 L310.00,159.50 L310.50,159.08 L311.00,158.67 L311.50,158.26 L312.00,157.85 L312.50,157.44 L313.00,157.03 L313.50,156.62 L314.00,156.21 L314.50,155.80 L315.00,155.39 L315.50,154.99 L316.00,154.58 L316.50,154.18 L317.00,153.79 L317.50,153.39 L318.00,153.00 L318.50,152.61 L319.00,152.22 L319.50,151.84 L320.00,151.46 L320.50,151.09 L321.00,150.72 L321.50,150.35 L322.00,149.99 L322.50,149.64 L323.00,149.29 L323.50,148.94 L324.00,148.60 L324.50,148.26 L325.00,147.93 L325.50,147.60 L326.00,147.28 L326.50,146.96 L327.00,146.65 L327.50,146.35 L328.00,146.05 L328.50,145.75 L329.00,145.47 L329.50,145.18 L330.00,144.90 L330.50,144.63 L331.00,144.37 L331.50,144.11 L332.00,143.85 L332.50,143.61 L333.00,143.36 L333.50,143.13 L334.00,142.90 L334.50,142.68 L335.00,142.46 L335.50,142.25 L336.00,142.05 L336.50,141.85 L337.00,141.67 L337.50,141.48 L338.00,141.31 L338.50,141.14 L339.00,140.98 L339.50,140.82 L340.00,140.67 L340.50,140.53 L341.00,140.40 L341.50,140.27 L342.00,140.15 L342.50,140.03 L343.00,139.92 L343.50,139.82 L344.00,139.72 L344.50,139.63 L345.00,139.55 L345.50,139.47 L346.00,139.39 L346.50,139.32 L347.00,139.26 L347.50,139.20 L348.00,139.15 L348.50,139.10 L349.00,139.05 L349.50,139.01 L350.00,138.98 L350.50,138.95 L351.00,138.93 L351.50,138.90 L352.00,138.89 L352.50,138.88 L353.00,138.87 L353.50,138.86 L354.00,138.86 L354.50,138.86 L355.00,138.87 L355.50,138.88 L356.00,138.90 L356.50,138.91 L357.00,138.93 L357.50,138.96 L358.00,138.98 L358.50,139.01 L359.00,139.04 L359.50,139.08 L360.00,139.12 L360.50,139.16 L361.00,139.20 L361.50,139.24 L362.00,139.29 L362.50,139.34 L363.00,139.39 L363.50,139.44 L364.00,139.49 L364.50,139.55 L365.00,139.61 L365.50,139.67 L366.00,139.73 L366.50,139.79 L367.00,139.85 L367.50,139.91 L368.00,139.98 L368.50,140.04 L369.00,140.11 L369.50,140.17 L370.00,140.24 L370.50,140.31 L371.00,140.38 L371.50,140.44 L372.00,140.51 L372.50,140.58 L373.00,140.65 L373.50,140.71 L374.00,140.78 L374.50,140.85 L375.00,140.91 L375.50,140.98" stroke="#008080"/>
<path d="M79.00,115.30 L79.50,115.59 L80.00,115.88 L80.50,116.17 L81.00,116.45 L81.50,116.73 L82.00,117.00 L82.50,117.26 L83.00,117.52 L83.50,117.78 L84.00,118.03 L84.50,118.27 L85.00,118.52 L85.50,118.75 L86.00,118.98 L86.50,119.21 L87.00,119.43 L87.50,119.65 L88.00,119.86 L88.50,120.07 L89.00,120.27 L89.50,120.47 L90.00,120.66 L90.50,120.86 L91.00,121.04 L91.50,121.22 L92.00,121.40 L92.50,121.58 L93.00,121.75 L93.50,121.92 L94.00,122.08 L94.50,122.24 L95.00,122.40 L95.50,122.55 L96.00,122.70 L96.50,122.84 L97.00,122.99 L97.50,123.13 L98.00,123.26 L98.50,123.40 L99.00,123.53 L99.50,123.65 L100.00,123.78 L100.50,123.90 L101.00,124.02 L101.50,124.13 L102.00,124.24 L102.50,124.36 L103.00,124.46 L103.50,124.57 L104.00,124.67 L104.50,124.77 L105.00,124.87 L105.50,124.97 L106.00,125.06 L106.50,125.15 L107.00,125.24 L107.50,125.33 L108.00,125.42 L108.50,125.50 L109.00,125.58 L109.50,125.66 L110.00,125.74 L110.50,125.82 L111.00,125.90 L111.50,125.97 L112.00,126.04 L112.50,126.12 L113.00,126.19 L113.50,126.26 L114.00,126.32 L114.50,126.39 L115.00,126.46 L115.50,126.52 L116.00,126.59 L116.50,126.65 L117.00,126.71 L117.50,126.78 L118.00,126.84 L118.50,126.90 L119.00,126.96 L119.50,127.02 L120.00,127.08 L120.50,127.14 L121.00,127.20 L121.50,127.26 L122.00,127.32 L122.50,127.38 L123.00,127.44 L123.50,127.50 L124.00,127.56 L124.50,127.62 L125.00,127.68 L125.50,127.74 L126.00,127.80 L126.50,127.86 L127.00,127.92 L127.50,127.99 L128.00,128.05 L128.50,128.11 L129.00,128.18 L129.50,128.25 L130.00,128.31 L130.50,128.38 L131.00,128.45 L131.50,128.52 L132.00,128.59 L132.50,128.66 L133.00,128.74 L133.50,128.81 L134.00,128.89 L134.50,128.97 L135.00,129.05 L135.50,129.13 L136.00,129.22 L136.50,129.30 L137.00,129.39 L137.50,129.48 L138.00,129.57 L138.50,129.66 L139.00,129.76 L139.50,129.86 L140.00,129.96 L140.50,130.06 L141.00,130.16 L141.50,130.27 L142.00,130.38 L142.50,130.49 L143.00,130.61 L143.50,130.73 L144.00,130.85 L144.50,130.97 L145.00,131.10 L145.50,131.23 L146.00,131.36 L146.50,131.49 L147.00,131.63 L147.50,131.77 L148.00,131.92 L148.50,132.07 L149.00,132.22 L149.50,132.37 L150.00,132.53 L150.50,132.70 L151.00,132.86 L151.50,133.03 L152.00,133.21 L152.50,133.38 L153.00,133.57 L153.50,133.75 L154.00,133.94 L154.50,134.14 L155.00,134.33 L155.50,134.54 L156.00,134.74 L156.50,134.95 L157.00,135.17 L157.50,135.39 L158.00,135.62 L158.50,135.84 L159.00,136.08 L159.50,136.32 L160.00,136.56 L160.50,136.81 L161.00,137.06 L161.50,137.32 L162.00,137.59 L162.50,137.86 L163.00,138.13 L163.50,138.41 L164.00,138.70 L164.50,138.99 L165.00,139.28 L165.50,139.59 L166.00,139.89 L166.50,140.21 L167.00,140.52 L167.50,140.85 L168.00,141.18 L168.50,141.52 L169.00,141.86 L169.50,142.21 L170.00,142.56 L170.50,142.92 L171.00,143.29 L171.50,143.67 L172.00,144.05 L172.50,144.43 L173.00,144.83 L173.50,145.23 L174.00,145.63 L174.50,146.05 L175.00,146.47 L175.50,146.89 L176.00,147.32 L176.50,147.76 L177.00,148.21 L177.50,148.66 L178.00,149.11 L178.50,149.57 L179.00,150.04 L179.50,150.51 L180.00,150.98 L180.50,151.46 L181.00,151.94 L181.50,152.43 L182.00,152.92 L182.50,153.41 L183.00,153.91 L183.50,154.40 L184.00,154.91 L184.50,155.41 L185.00,155.91 L185.50,156.42 L186.00,156.93 L186.50,157.44 L187.00,157.95 L187.50,158.46 L188.00,158.97 L188.50,159.49 L189.00,160.00 L189.50,160.51 L190.00,161.03 L190.50,161.54 L191.00,162.05 L191.50,162.56 L192.00,163.07 L192.50,163.58 L193.00,164.08 L193.50,164.59 L194.00,165.09 L194.50,165.59 L195.00,166.09 L195.50,166.58 L196.00,167.07 L196.50,167.56 L197.00,168.04 L197.50,168.52 L198.00,169.00 L198.50,169.47 L199.00,169.94 L199.50,170.40 L200.00,170.86 L200.50,171.31 L201.00,171.76 L201.50,172.20 L202.00,172.64 L202.50,173.07 L203.00,173.49 L203.50,173.91 L204.00,174.32 L204.50,174.72 L205.00,175.11 L205.50,175.50 L206.00,175.87 L206.50,176.24 L207.00,176.60 L207.50,176.95 L208.00,177.29 L208.50,177.62 L209.00,177.94 L209.50,178.25 L210.00,178.55 L210.50,178.84 L211.00,179.11 L211.50,179.38 L212.00,179.63 L212.50,179.87 L213.00,180.10 L213.50,180.31 L214.00,180.52 L214.50,180.71 L215.00,180.90 L215.50,181.07 L216.00,181.23 L216.50,181.38 L217.00,181.52 L217.50,181.65 L218.00,181.77 L218.50,181.88 L219.00,181.98 L219.50,182.07 L220.00,182.15 L220.50,182.22 L221.00,182.28 L221.50,182.33 L222.00,182.37 L222.50,182.40 L223.00,182.42 L223.50,182.44 L224.00,182.44 L224.50,182.44 L225.00,182.43 L225.50,182.41 L226.00,182.38 L226.50,182.35 L227.00,182.32 L227.50,182.27 L228.00,182.22 L228.50,182.17 L229.00,182.11 L229.50,182.05 L230.00,181.98 L230.50,181.90 L231.00,181.83 L231.50,181.75 L232.00,181.67 L232.50,181.58 L233.00,181.50 L233.50,181.41 L234.00,181.32 L234.50,181.22 L235.00,181.13 L235.50,181.03 L236.00,180.93 L236.50,180.84 L237.00,180.74 L237.50,180.64 L238.00,180.54 L238.50,180.43 L239.00,180.33 L239.50,180.23 L240.00,180.13 L240.50,180.02 L241.00,179.92 L241.50,179.82 L242.00,179.71 L242.50,179.61 L243.00,179.51 L243.50,179.41 L244.00,179.31 L244.50,179.21 L245.00,179.12 L245.50,179.02 L246.00,178.93 L246.50,178.83 L247.00,178.74 L247.50,178.65 L248.00,178.56 L248.50,178.48 L249.00,178.39 L249.50,178.30 L250.00,178.22 L250.50,178.13 L251.00,178.05 L251.50,177.97 L252.00,177.89 L252.50,177.81 L253.00,177.73 L253.50,177.65 L254.00,177.57 L254.50,177.49 L255.00,177.42 L255.50,177.34 L256.00,177.26 L256.50,177.19 L257.00,177.11 L257.50,177.04 L258.00,176.96 L258.50,176.88 L259.00,176.81 L259.50,176.73 L260.00,176.66 L260.50,176.58 L261.00,176.51 L261.50,176.43 L262.00,176.35 L262.50,176.28 L263.00,176.20 L263.50,176.12 L264.00,176.04 L264.50,175.97 L265.00,175.89 L265.30,175.84 L265.80,174.53 L266.30,174.19 L266.80,173.84 L267.30,173.49 L267.80,173.14 L268.30,172.80 L268.80,172.45 L269.30,172.09 L269.80,171.74 L270.30,171.39 L270.80,171.04 L271.30,170.68 L271.80,170.32 L272.30,169.97 L272.80,169.61 L273.30,169.25 L273.80,168.89 L274.30,168.52 L274.80,168.16 L275.30,167.80 L275.80,167.43 L276.30,167.06 L276.80,166.70 L277.30,166.33 L277.80,165.95 L278.30,165.58 L278.80,165.21 L279.30,164.83 L279.80,164.46 L280.30,164.08 L280.80,163.70 L281.30,163.32 L281.80,162.94 L282.30,162.55 L282.80,162.17 L283.30,161.78 L283.80,161.39 L284.30,161.01 L284.80,160.61 L285.30,160.22 L285.80,159.83 L286.30,159.43 L286.80,159.03 L287.30,158.63 L287.80,158.23 L288.30,157.83 L288.80,157.43 L289.30,157.02 L289.80,156.61 L290.30,156.21 L290.80,155.79 L291.30,155.38 L291.80,154.97 L292.30,154.55 L292.80,154.13 L293.30,153.71 L293.80,153.29 L294.30,152.87 L294.80,152.44 L295.30,152.01 L295.80,151.58 L296.30,151.15 L296.80,150.72 L297.30,150.28 L297.80,149.85 L298.30,149.41 L298.80,148.97 L299.30,148.52 L299.80,148.08 L300.30,147.63 L300.80,147.18 L301.30,146.73 L301.80,146.28 L302.30,145.82 L302.80,145.36 L303.30,144.90 L303.80,144.44 L304.30,143.98 L304.80,143.51 L305.30,143.04 L305.80,142.57 L306.30,142.10 L306.80,141.62 L307.30,141.14 L307.80,140.66 L308.30,140.18 L308.80,139.69 L309.30,139.21 L309.80,138.72 L310.30,138.22 L310.80,137.73 L311.30,137.23 L311.80,136.73 L312.30,136.23 L312.80,135.73 L313.30,135.22 L313.80,134.71 L314.30,134.20 L314.80,133.68 L315.30,133.17 L315.80,132.65 L316.30,132.12 L316.80,131.60 L317.30,131.07 L317.80,130.54 L318.30,130.01 L318.80,129.48 L319.30,128.94 L319.80,128.40 L320.30,127.86 L320.80,127.32 L321.30,126.78 L321.80,126.24 L322.30,125.70 L322.80,125.15 L323.30,124.61 L323.80,124.07 L324.30,123.53 L324.80,122.98 L325.30,122.44 L325.80,121.90 L326.30,121.36 L326.80,120.82 L327.30,120.29 L327.80,119.75 L328.30,119.22 L328.80,118.69 L329.30,118.16 L329.80,117.63 L330.30,117.11 L330.80,116.59 L331.30,116.07 L331.80,115.56 L332.30,115.05 L332.80,114.54 L333.30,114.04 L333.80,113.54 L334.30,113.05 L334.80,112.56 L335.30,112.07 L335.80,111.60 L336.30,111.12 L336.80,110.65 L337.30,110.19 L337.80,109.73 L338.30,109.28 L338.80,108.84 L339.30,108.40 L339.80,107.97 L340.30,107.54 L340.80,107.13 L341.30,106.72 L341.80,106.31 L342.30,105.92 L342.80,105.53 L343.30,105.15 L343.80,104.78 L344.30,104.42 L344.80,104.07 L345.30,103.72 L345.80,103.39 L346.30,103.06 L346.80,102.75 L347.30,102.44 L347.80,102.15 L348.30,101.86 L348.80,101.59 L349.30,101.32 L349.80,101.07 L350.30,100.82 L350.80,100.59 L351.30,100.37 L351.80,100.15 L352.30,99.95 L352.80,99.76 L353.30,99.57 L353.80,99.39 L354.30,99.22 L354.80,99.06 L355.30,98.91 L355.80,98.77 L356.30,98.63 L356.80,98.50 L357.30,98.37 L357.80,98.25 L358.30,98.14 L358.80,98.04 L359.30,97.94 L359.80,97.84 L360.30,97.76 L360.80,97.67 L361.30,97.59 L361.80,97.52 L362.30,97.45 L362.80,97.38 L363.30,97.32 L363.80,97.26 L364.30,97.20 L364.80,97.15 L365.30,97.10 L365.80,97.05 L366.30,97.00 L366.80,96.96 L367.30,96.92 L367.80,96.87 L368.30,96.83 L368.80,96.79 L369.30,96.75 L369.80,96.71 L370.30,96.67 L370.80,96.63 L371.30,96.59 L371.80,96.55 L372.30,96.51 L372.80,96.47 L373.30,96.42 L373.80,96.37 L374.30,96.32 L374.80,96.27 L375.30,96.22 L375.70,96.17" stroke="#ff00ff"/>
</g>
<path d="M68.50,8.30H377.00V266.35H68.50Z" fill="none" stroke="#000" stroke-linejoin="round" stroke-width="2.90"/>
<path d="M107.47,266.35V260.40 M145.95,266.35V260.40 M184.43,266.35V260.40 M222.91,266.35V260.40 M261.39,266.35V260.40 M299.87,266.35V260.40 M338.35,266.35V260.40 M68.50,72.35H74.40 M68.50,136.90H74.40 M68.50,201.45H74.40" stroke="#000" stroke-width="2.8" stroke-linecap="round" fill="none"/>
<g font-family="Liberation Sans, sans-serif" font-weight="bold" font-size="15.5" fill="#000">
<text transform="translate(68.49,286.6) scale(1,1.110)" text-anchor="middle">0</text>
<text transform="translate(106.97,286.6) scale(1,1.110)" text-anchor="middle">100</text>
<text transform="translate(145.45,286.6) scale(1,1.110)" text-anchor="middle">200</text>
<text transform="translate(183.93,286.6) scale(1,1.110)" text-anchor="middle">300</text>
<text transform="translate(222.41,286.6) scale(1,1.110)" text-anchor="middle">400</text>
<text transform="translate(260.89,286.6) scale(1,1.110)" text-anchor="middle">500</text>
<text transform="translate(299.37,286.6) scale(1,1.110)" text-anchor="middle">600</text>
<text transform="translate(337.85,286.6) scale(1,1.110)" text-anchor="middle">700</text>
<text transform="translate(376.33,286.6) scale(1,1.110)" text-anchor="middle">800</text>
<text transform="translate(61.44,13.00) scale(1,1.110)" text-anchor="end">150</text>
<text transform="translate(61.44,76.55) scale(1,1.110)" text-anchor="end">120</text>
<text transform="translate(61.44,142.10) scale(1,1.110)" text-anchor="end">90</text>
<text transform="translate(61.44,206.25) scale(1,1.110)" text-anchor="end">60</text>
<text transform="translate(61.44,271.20) scale(1,1.110)" text-anchor="end">30</text>
</g>
<text transform="translate(16.8,200.4) rotate(-90)" font-family="Liberation Sans, sans-serif" font-weight="bold" font-size="21.7" fill="#000">Weight (%)</text>
<text x="138.35" y="316.2" font-family="Liberation Sans, sans-serif" font-weight="bold" font-size="21" fill="#000">Temperature (°C)</text>
<path d="M89.5,158.40H123.5" stroke="#000000" stroke-width="1.8"/>
<text transform="translate(126.8,163.90) scale(1,1.060)" font-family="Liberation Sans, sans-serif" font-size="15" fill="#000">0.10</text>
<path d="M89.5,177.00H123.5" stroke="#ff0000" stroke-width="1.8"/>
<text transform="translate(126.8,182.30) scale(1,1.060)" font-family="Liberation Sans, sans-serif" font-size="15" fill="#000">0.05</text>
<path d="M89.5,195.60H123.5" stroke="#0000ff" stroke-width="1.8"/>
<text transform="translate(126.8,200.70) scale(1,1.060)" font-family="Liberation Sans, sans-serif" font-size="15" fill="#000">0.02</text>
<path d="M89.5,214.20H123.5" stroke="#008080" stroke-width="1.8"/>
<text transform="translate(126.8,219.10) scale(1,1.060)" font-family="Liberation Sans, sans-serif" font-size="15" fill="#000">0.01</text>
<path d="M89.5,232.80H123.5" stroke="#ff00ff" stroke-width="1.8"/>
<text transform="translate(126.8,237.50) scale(1,1.060)" font-family="Liberation Sans, sans-serif" font-size="15" fill="#000">0.005</text>
<rect x="180.85" y="17.48" width="123.85" height="106.52" fill="#fff" stroke="none"/>
<g fill="none" stroke-width="1.9" stroke-linejoin="round" stroke-linecap="round">
<path d="M187.30,35.78 L187.80,36.10 L188.30,36.39 L188.80,36.68 L189.30,36.95 L189.80,37.20 L190.30,37.45 L190.80,37.68 L191.30,37.89 L191.80,38.10 L192.30,38.29 L192.80,38.48 L193.30,38.65 L193.80,38.81 L194.30,38.97 L194.80,39.11 L195.30,39.25 L195.80,39.37 L196.30,39.49 L196.80,39.61 L197.30,39.71 L197.80,39.81 L198.30,39.90 L198.80,39.99 L199.30,40.08 L199.80,40.15 L200.30,40.23 L200.80,40.30 L201.30,40.37 L201.80,40.43 L202.30,40.50 L202.80,40.56 L203.30,40.62 L203.80,40.68 L204.30,40.74 L204.80,40.80 L205.30,40.86 L205.80,40.92 L206.30,40.98 L206.80,41.05 L207.30,41.12 L207.80,41.19 L208.30,41.26 L208.80,41.34 L209.30,41.42 L209.80,41.50 L210.30,41.59 L210.80,41.68 L211.30,41.77 L211.80,41.87 L212.30,41.97 L212.80,42.07 L213.30,42.18 L213.80,42.28 L214.30,42.39 L214.80,42.50 L215.30,42.61 L215.80,42.73 L216.30,42.84 L216.80,42.96 L217.30,43.08 L217.80,43.20 L218.30,43.32 L218.80,43.44 L219.30,43.56 L219.80,43.69 L220.30,43.81 L220.80,43.93 L221.30,44.06 L221.80,44.18 L222.30,44.31 L222.80,44.43 L223.30,44.56 L223.80,44.68 L224.30,44.81 L224.80,44.93 L225.30,45.05 L225.80,45.17 L226.30,45.30 L226.80,45.42 L227.30,45.53 L227.80,45.65 L228.30,45.77 L228.80,45.88 L229.30,46.00 L229.80,46.12 L230.30,46.23 L230.80,46.35 L231.30,46.47 L231.80,46.59 L232.30,46.71 L232.80,46.84 L233.30,46.97 L233.80,47.10 L234.30,47.23 L234.80,47.37 L235.30,47.51 L235.80,47.66 L236.30,47.82 L236.80,47.98 L237.30,48.14 L237.80,48.31 L238.30,48.49 L238.80,48.68 L239.30,48.87 L239.80,49.07 L240.30,49.28 L240.80,49.50 L241.30,49.73 L241.80,49.96 L242.30,50.21 L242.80,50.47 L243.30,50.74 L243.80,51.01 L244.30,51.30 L244.80,51.61 L245.30,51.92 L245.80,52.25 L246.30,52.59 L246.80,52.94 L247.30,53.31 L247.80,53.69 L248.30,54.08 L248.80,54.49 L249.30,54.92 L249.80,55.36 L250.30,55.82 L250.80,56.29 L251.30,56.78 L251.80,57.29 L252.30,57.81 L252.80,58.36 L253.30,58.92 L253.80,59.50 L254.30,60.10 L254.80,60.72 L255.30,61.36 L255.80,62.02 L256.30,62.70 L256.80,63.40 L257.30,64.12 L257.80,64.87 L258.30,65.63 L258.80,66.42 L259.30,67.23 L259.80,68.07 L260.30,68.93 L260.80,69.82 L261.30,70.73 L261.80,71.66 L262.30,72.63 L262.80,73.63 L263.30,74.65 L263.80,75.71 L264.30,76.80 L264.80,77.92 L265.30,79.06 L265.80,80.21 L266.30,81.35 L266.80,82.47 L267.30,83.56 L267.80,84.60 L268.30,85.60 L268.80,86.55 L269.30,87.48 L269.80,88.40 L270.30,89.32 L270.80,90.26 L271.30,91.23 L271.80,92.24 L272.30,93.31 L272.80,94.41 L273.30,95.54 L273.80,96.70 L274.30,97.88 L274.80,99.07 L275.30,100.27 L275.80,101.46 L276.30,102.64 L276.80,103.81 L277.30,104.95 L277.80,106.06 L278.30,107.14 L278.80,108.17 L279.30,109.14 L279.80,110.06 L280.30,110.91 L280.80,111.69 L281.30,112.39 L281.80,113.01 L282.30,113.54 L282.80,113.99 L283.30,114.38 L283.80,114.70 L284.30,114.95 L284.80,115.16 L285.30,115.31 L285.80,115.42 L286.30,115.49 L286.80,115.53 L287.30,115.54 L287.80,115.53 L288.30,115.50 L288.80,115.47 L289.30,115.42 L289.80,115.38 L290.30,115.33 L290.80,115.30 L291.30,115.27 L291.80,115.25 L292.30,115.23 L292.80,115.21 L293.30,115.18 L293.80,115.16 L294.30,115.13 L294.80,115.09 L295.30,115.05 L295.80,115.00 L296.30,114.93 L296.80,114.86 L297.30,114.78 L297.80,114.69 L298.30,114.59 L298.80,114.48 L299.30,114.37 L299.80,114.25 L300.30,114.13 L300.80,114.00 L301.30,113.87 L301.80,113.73 L302.30,113.59 L302.80,113.45 L303.30,113.31 L303.70,113.20" stroke="#000000"/>
<path d="M187.30,35.82 L187.80,36.11 L188.30,36.39 L188.80,36.65 L189.30,36.91 L189.80,37.15 L190.30,37.38 L190.80,37.60 L191.30,37.81 L191.80,38.01 L192.30,38.20 L192.80,38.38 L193.30,38.56 L193.80,38.72 L194.30,38.88 L194.80,39.03 L195.30,39.17 L195.80,39.30 L196.30,39.43 L196.80,39.55 L197.30,39.67 L197.80,39.78 L198.30,39.88 L198.80,39.98 L199.30,40.07 L199.80,40.16 L200.30,40.25 L200.80,40.33 L201.30,40.41 L201.80,40.49 L202.30,40.56 L202.80,40.63 L203.30,40.70 L203.80,40.77 L204.30,40.84 L204.80,40.91 L205.30,40.97 L205.80,41.04 L206.30,41.11 L206.80,41.17 L207.30,41.24 L207.80,41.31 L208.30,41.38 L208.80,41.46 L209.30,41.53 L209.80,41.61 L210.30,41.69 L210.80,41.77 L211.30,41.85 L211.80,41.93 L212.30,42.02 L212.80,42.11 L213.30,42.19 L213.80,42.29 L214.30,42.38 L214.80,42.47 L215.30,42.57 L215.80,42.66 L216.30,42.76 L216.80,42.86 L217.30,42.96 L217.80,43.07 L218.30,43.17 L218.80,43.28 L219.30,43.39 L219.80,43.49 L220.30,43.61 L220.80,43.72 L221.30,43.83 L221.80,43.95 L222.30,44.06 L222.80,44.18 L223.30,44.30 L223.80,44.42 L224.30,44.54 L224.80,44.66 L225.30,44.78 L225.80,44.91 L226.30,45.03 L226.80,45.16 L227.30,45.29 L227.80,45.42 L228.30,45.55 L228.80,45.68 L229.30,45.81 L229.80,45.95 L230.30,46.08 L230.80,46.21 L231.30,46.35 L231.80,46.49 L232.30,46.62 L232.80,46.76 L233.30,46.90 L233.80,47.04 L234.30,47.18 L234.80,47.32 L235.30,47.47 L235.80,47.61 L236.30,47.75 L236.80,47.90 L237.30,48.05 L237.80,48.21 L238.30,48.37 L238.80,48.53 L239.30,48.70 L239.80,48.88 L240.30,49.06 L240.80,49.26 L241.30,49.46 L241.80,49.67 L242.30,49.89 L242.80,50.12 L243.30,50.37 L243.80,50.62 L244.30,50.89 L244.80,51.17 L245.30,51.47 L245.80,51.78 L246.30,52.11 L246.80,52.46 L247.30,52.82 L247.80,53.20 L248.30,53.59 L248.80,54.00 L249.30,54.43 L249.80,54.87 L250.30,55.33 L250.80,55.80 L251.30,56.28 L251.80,56.77 L252.30,57.27 L252.80,57.78 L253.30,58.30 L253.80,58.83 L254.30,59.36 L254.80,59.90 L255.30,60.45 L255.80,61.00 L256.30,61.55 L256.80,62.10 L257.30,62.66 L257.80,63.22 L258.30,63.79 L258.80,64.36 L259.30,64.94 L259.80,65.52 L260.30,66.12 L260.80,66.72 L261.30,67.34 L261.80,67.97 L262.30,68.61 L262.80,69.26 L263.30,69.93 L263.80,70.62 L264.30,71.33 L264.80,72.05 L265.30,72.80 L265.80,73.56 L266.30,74.35 L266.80,75.17 L267.30,76.00 L267.80,76.86 L268.30,77.75 L268.80,78.65 L269.30,79.57 L269.80,80.50 L270.30,81.44 L270.80,82.39 L271.30,83.34 L271.80,84.30 L272.30,85.26 L272.80,86.21 L273.30,87.16 L273.80,88.11 L274.30,89.04 L274.80,89.95 L275.30,90.85 L275.80,91.74 L276.30,92.60 L276.80,93.43 L277.30,94.24 L277.50,94.56 L278.00,94.51 L278.50,94.66 L279.00,94.80 L279.50,94.93 L280.00,95.06 L280.50,95.19 L281.00,95.30 L281.50,95.42 L282.00,95.52 L282.50,95.63 L283.00,95.72 L283.50,95.81 L284.00,95.90 L284.50,95.98 L285.00,96.06 L285.50,96.13 L286.00,96.20 L286.50,96.26 L287.00,96.32 L287.50,96.37 L288.00,96.42 L288.50,96.47 L289.00,96.52 L289.50,96.56 L290.00,96.59 L290.50,96.63 L291.00,96.66 L291.50,96.68 L292.00,96.71 L292.50,96.73 L293.00,96.75 L293.50,96.77 L294.00,96.78 L294.50,96.80 L295.00,96.81 L295.50,96.82 L296.00,96.82 L296.50,96.83 L297.00,96.83 L297.50,96.84 L298.00,96.84 L298.50,96.84 L299.00,96.84 L299.50,96.84 L300.00,96.84 L300.50,96.84 L301.00,96.83 L301.50,96.83 L302.00,96.83 L302.50,96.83 L303.00,96.82 L303.10,96.82" stroke="#ff0000"/>
<path d="M187.30,35.90 L187.80,36.18 L188.30,36.45 L188.80,36.71 L189.30,36.96 L189.80,37.20 L190.30,37.43 L190.80,37.66 L191.30,37.88 L191.80,38.08 L192.30,38.29 L192.80,38.48 L193.30,38.67 L193.80,38.85 L194.30,39.03 L194.80,39.20 L195.30,39.36 L195.80,39.52 L196.30,39.68 L196.80,39.83 L197.30,39.98 L197.80,40.12 L198.30,40.26 L198.80,40.39 L199.30,40.52 L199.80,40.65 L200.30,40.78 L200.80,40.90 L201.30,41.02 L201.80,41.14 L202.30,41.26 L202.80,41.38 L203.30,41.50 L203.80,41.61 L204.30,41.73 L204.80,41.85 L205.30,41.96 L205.80,42.08 L206.30,42.20 L206.80,42.32 L207.30,42.44 L207.80,42.56 L208.30,42.69 L208.80,42.82 L209.30,42.95 L209.80,43.08 L210.30,43.22 L210.80,43.35 L211.30,43.49 L211.80,43.63 L212.30,43.77 L212.80,43.91 L213.30,44.05 L213.80,44.20 L214.30,44.34 L214.80,44.49 L215.30,44.63 L215.80,44.78 L216.30,44.93 L216.80,45.07 L217.30,45.22 L217.80,45.37 L218.30,45.51 L218.80,45.66 L219.30,45.81 L219.80,45.95 L220.30,46.10 L220.80,46.24 L221.30,46.39 L221.80,46.53 L222.30,46.67 L222.80,46.81 L223.30,46.95 L223.80,47.09 L224.30,47.23 L224.80,47.36 L225.30,47.49 L225.80,47.62 L226.30,47.75 L226.80,47.88 L227.30,48.00 L227.80,48.12 L228.30,48.24 L228.80,48.36 L229.30,48.47 L229.80,48.59 L230.30,48.70 L230.80,48.82 L231.30,48.93 L231.80,49.05 L232.30,49.16 L232.80,49.28 L233.30,49.39 L233.80,49.51 L234.30,49.63 L234.80,49.76 L235.30,49.89 L235.80,50.02 L236.30,50.15 L236.80,50.29 L237.30,50.43 L237.80,50.58 L238.30,50.73 L238.80,50.89 L239.30,51.05 L239.80,51.22 L240.30,51.40 L240.80,51.58 L241.30,51.77 L241.80,51.97 L242.30,52.17 L242.80,52.39 L243.30,52.61 L243.80,52.84 L244.30,53.08 L244.80,53.33 L245.30,53.59 L245.80,53.86 L246.30,54.15 L246.80,54.44 L247.30,54.75 L247.80,55.06 L248.30,55.39 L248.80,55.73 L249.30,56.09 L249.80,56.46 L250.30,56.84 L250.80,57.24 L251.30,57.65 L251.80,58.07 L252.30,58.51 L252.80,58.97 L253.30,59.44 L253.80,59.92 L254.30,60.42 L254.80,60.92 L255.30,61.44 L255.80,61.97 L256.30,62.51 L256.80,63.05 L257.30,63.61 L257.80,64.17 L258.30,64.73 L258.80,65.30 L259.30,65.88 L259.80,66.46 L260.30,67.04 L260.80,67.63 L261.30,68.21 L261.80,68.80 L262.30,69.39 L262.80,69.97 L263.30,70.56 L263.80,71.14 L264.30,71.72 L264.80,72.29 L265.30,72.86 L265.80,73.42 L266.30,73.98 L266.80,74.52 L267.30,75.06 L267.80,75.59 L268.30,76.12 L268.80,76.63 L269.30,77.13 L269.80,77.61 L270.30,78.09 L270.80,78.55 L271.30,78.99 L271.80,79.42 L272.30,79.84 L272.80,80.24 L273.30,80.61 L273.80,80.98 L274.30,81.32 L274.80,81.64 L275.30,81.95 L275.80,82.23 L276.30,82.50 L276.80,82.76 L277.30,82.99 L277.80,83.21 L278.30,83.42 L278.80,83.61 L279.30,83.78 L279.80,83.94 L280.30,84.09 L280.80,84.22 L281.30,84.34 L281.80,84.45 L282.30,84.54 L282.80,84.62 L283.30,84.69 L283.80,84.75 L284.30,84.80 L284.80,84.84 L285.30,84.87 L285.80,84.90 L286.30,84.91 L286.80,84.91 L287.30,84.91 L287.80,84.90 L288.30,84.88 L288.80,84.85 L289.30,84.82 L289.80,84.78 L290.30,84.74 L290.80,84.69 L291.30,84.64 L291.80,84.58 L292.30,84.52 L292.80,84.46 L293.30,84.39 L293.80,84.32 L294.30,84.25 L294.80,84.18 L295.30,84.11 L295.80,84.04 L296.30,83.96 L296.80,83.89 L297.30,83.81 L297.80,83.74 L298.30,83.67 L298.80,83.60 L299.30,83.54 L299.80,83.47 L300.30,83.41 L300.80,83.36 L301.30,83.31 L301.80,83.26 L302.30,83.21 L302.80,83.18 L303.30,83.14 L303.50,83.13" stroke="#0000ff"/>
<path d="M187.30,35.79 L187.80,36.06 L188.30,36.32 L188.80,36.57 L189.30,36.82 L189.80,37.06 L190.30,37.29 L190.80,37.51 L191.30,37.73 L191.80,37.94 L192.30,38.15 L192.80,38.35 L193.30,38.54 L193.80,38.73 L194.30,38.91 L194.80,39.08 L195.30,39.25 L195.80,39.41 L196.30,39.57 L196.80,39.73 L197.30,39.87 L197.80,40.02 L198.30,40.15 L198.80,40.29 L199.30,40.42 L199.80,40.54 L200.30,40.66 L200.80,40.78 L201.30,40.89 L201.80,41.00 L202.30,41.11 L202.80,41.21 L203.30,41.31 L203.80,41.40 L204.30,41.49 L204.80,41.58 L205.30,41.67 L205.80,41.75 L206.30,41.83 L206.80,41.91 L207.30,41.99 L207.80,42.06 L208.30,42.13 L208.80,42.20 L209.30,42.27 L209.80,42.33 L210.30,42.40 L210.80,42.46 L211.30,42.53 L211.80,42.59 L212.30,42.65 L212.80,42.71 L213.30,42.77 L213.80,42.82 L214.30,42.88 L214.80,42.94 L215.30,43.00 L215.80,43.06 L216.30,43.11 L216.80,43.17 L217.30,43.23 L217.80,43.29 L218.30,43.35 L218.80,43.41 L219.30,43.47 L219.80,43.54 L220.30,43.60 L220.80,43.67 L221.30,43.73 L221.80,43.80 L222.30,43.87 L222.80,43.94 L223.30,44.02 L223.80,44.10 L224.30,44.18 L224.80,44.26 L225.30,44.34 L225.80,44.43 L226.30,44.52 L226.80,44.61 L227.30,44.71 L227.80,44.81 L228.30,44.91 L228.80,45.02 L229.30,45.13 L229.80,45.24 L230.30,45.36 L230.80,45.49 L231.30,45.61 L231.80,45.75 L232.30,45.88 L232.80,46.02 L233.30,46.17 L233.80,46.32 L234.30,46.47 L234.80,46.64 L235.30,46.80 L235.80,46.97 L236.30,47.15 L236.80,47.33 L237.30,47.52 L237.80,47.72 L238.30,47.92 L238.80,48.13 L239.30,48.34 L239.80,48.57 L240.30,48.79 L240.80,49.03 L241.30,49.27 L241.80,49.52 L242.30,49.78 L242.80,50.04 L243.30,50.31 L243.80,50.59 L244.30,50.88 L244.80,51.17 L245.30,51.48 L245.80,51.79 L246.30,52.11 L246.80,52.44 L247.30,52.78 L247.80,53.12 L248.30,53.48 L248.80,53.84 L249.30,54.22 L249.80,54.60 L250.30,54.99 L250.80,55.39 L251.30,55.81 L251.80,56.23 L252.30,56.66 L252.80,57.10 L253.30,57.55 L253.80,58.01 L254.30,58.48 L254.80,58.96 L255.30,59.44 L255.80,59.94 L256.30,60.43 L256.80,60.94 L257.30,61.45 L257.80,61.96 L258.30,62.48 L258.80,63.01 L259.30,63.54 L259.80,64.07 L260.30,64.60 L260.80,65.14 L261.30,65.68 L261.80,66.22 L262.30,66.76 L262.80,67.30 L263.30,67.84 L263.80,68.39 L264.30,68.93 L264.80,69.47 L265.30,70.01 L265.80,70.54 L266.30,71.07 L266.80,71.60 L267.30,72.12 L267.80,72.64 L268.30,73.15 L268.80,73.65 L269.30,74.14 L269.80,74.62 L270.30,75.10 L270.80,75.56 L271.30,76.01 L271.80,76.45 L272.30,76.87 L272.80,77.28 L273.30,77.68 L273.80,78.06 L274.30,78.42 L274.80,78.77 L275.30,79.10 L275.80,79.42 L276.30,79.72 L276.80,80.00 L277.30,80.27 L277.80,80.53 L278.30,80.77 L278.80,81.00 L279.30,81.21 L279.80,81.41 L280.30,81.60 L280.80,81.78 L281.30,81.94 L281.80,82.09 L282.30,82.23 L282.80,82.36 L283.30,82.47 L283.80,82.57 L284.30,82.67 L284.80,82.75 L285.30,82.82 L285.80,82.88 L286.30,82.94 L286.80,82.98 L287.30,83.01 L287.80,83.04 L288.30,83.05 L288.80,83.06 L289.30,83.06 L289.80,83.05 L290.30,83.03 L290.80,83.01 L291.30,82.98 L291.80,82.94 L292.30,82.89 L292.80,82.84 L293.30,82.79 L293.80,82.72 L294.30,82.66 L294.80,82.58 L295.30,82.50 L295.80,82.42 L296.30,82.33 L296.80,82.24 L297.30,82.15 L297.80,82.05 L298.30,81.95 L298.80,81.84 L299.30,81.74 L299.80,81.63 L300.30,81.51 L300.80,81.40 L301.30,81.28 L301.80,81.17 L302.30,81.05 L302.80,80.93 L303.30,80.81 L303.50,80.76" stroke="#008080"/>
<path d="M187.30,35.89 L187.80,36.14 L188.30,36.39 L188.80,36.64 L189.30,36.87 L189.80,37.10 L190.30,37.32 L190.80,37.53 L191.30,37.74 L191.80,37.94 L192.30,38.14 L192.80,38.33 L193.30,38.51 L193.80,38.69 L194.30,38.86 L194.80,39.03 L195.30,39.19 L195.80,39.34 L196.30,39.50 L196.80,39.64 L197.30,39.78 L197.80,39.92 L198.30,40.05 L198.80,40.17 L199.30,40.30 L199.80,40.41 L200.30,40.53 L200.80,40.64 L201.30,40.74 L201.80,40.85 L202.30,40.95 L202.80,41.04 L203.30,41.13 L203.80,41.22 L204.30,41.31 L204.80,41.39 L205.30,41.47 L205.80,41.55 L206.30,41.62 L206.80,41.70 L207.30,41.77 L207.80,41.84 L208.30,41.90 L208.80,41.97 L209.30,42.03 L209.80,42.09 L210.30,42.15 L210.80,42.21 L211.30,42.27 L211.80,42.32 L212.30,42.38 L212.80,42.44 L213.30,42.49 L213.80,42.54 L214.30,42.60 L214.80,42.65 L215.30,42.70 L215.80,42.76 L216.30,42.81 L216.80,42.86 L217.30,42.92 L217.80,42.97 L218.30,43.03 L218.80,43.09 L219.30,43.14 L219.80,43.20 L220.30,43.26 L220.80,43.32 L221.30,43.39 L221.80,43.45 L222.30,43.52 L222.80,43.59 L223.30,43.66 L223.80,43.73 L224.30,43.80 L224.80,43.88 L225.30,43.96 L225.80,44.04 L226.30,44.13 L226.80,44.22 L227.30,44.31 L227.80,44.40 L228.30,44.50 L228.80,44.60 L229.30,44.71 L229.80,44.82 L230.30,44.93 L230.80,45.05 L231.30,45.17 L231.80,45.30 L232.30,45.43 L232.80,45.56 L233.30,45.70 L233.80,45.85 L234.30,46.00 L234.80,46.15 L235.30,46.31 L235.80,46.48 L236.30,46.65 L236.80,46.82 L237.30,47.01 L237.80,47.20 L238.30,47.39 L238.80,47.59 L239.30,47.80 L239.80,48.01 L240.30,48.23 L240.80,48.45 L241.30,48.68 L241.80,48.92 L242.30,49.16 L242.80,49.41 L243.30,49.66 L243.80,49.92 L244.30,50.18 L244.80,50.45 L245.30,50.72 L245.80,51.00 L246.30,51.28 L246.80,51.57 L247.30,51.86 L247.80,52.15 L248.30,52.45 L248.80,52.76 L249.30,53.07 L249.80,53.38 L250.30,53.70 L250.80,54.03 L251.30,54.35 L251.80,54.68 L252.30,55.02 L252.80,55.36 L253.30,55.70 L253.80,56.04 L254.30,56.39 L254.80,56.75 L255.30,57.10 L255.80,57.46 L256.30,57.83 L256.80,58.19 L257.30,58.56 L257.80,58.93 L258.30,59.31 L258.80,59.69 L259.30,60.07 L259.80,60.45 L260.30,60.84 L260.80,61.23 L261.30,61.62 L261.80,62.01 L262.30,62.41 L262.80,62.80 L263.30,63.20 L263.80,63.60 L264.30,64.00 L264.80,64.40 L265.30,64.80 L265.80,65.20 L266.30,65.60 L266.80,66.00 L267.30,66.39 L267.80,66.78 L268.30,67.17 L268.80,67.56 L269.30,67.95 L269.80,68.33 L270.30,68.71 L270.80,69.08 L271.30,69.45 L271.80,69.81 L272.30,70.17 L272.80,70.52 L273.30,70.87 L273.80,71.21 L274.30,71.54 L274.80,71.87 L275.30,72.18 L275.80,72.49 L276.30,72.80 L276.80,73.09 L277.30,73.37 L277.80,73.65 L278.30,73.91 L278.80,74.16 L279.30,74.41 L279.80,74.64 L280.30,74.86 L280.80,75.07 L281.30,75.27 L281.80,75.45 L282.30,75.62 L282.50,75.69 L283.00,75.18 L283.50,75.16 L284.00,75.14 L284.50,75.12 L285.00,75.09 L285.50,75.07 L286.00,75.04 L286.50,75.01 L287.00,74.97 L287.50,74.94 L288.00,74.90 L288.50,74.87 L289.00,74.83 L289.50,74.79 L290.00,74.75 L290.50,74.71 L291.00,74.66 L291.50,74.62 L292.00,74.58 L292.50,74.53 L293.00,74.48 L293.50,74.44 L294.00,74.39 L294.50,74.34 L295.00,74.30 L295.50,74.25 L296.00,74.20 L296.50,74.15 L297.00,74.10 L297.50,74.05 L298.00,74.00 L298.50,73.96 L299.00,73.91 L299.50,73.86 L300.00,73.81 L300.50,73.77 L301.00,73.72 L301.50,73.67 L302.00,73.63 L302.50,73.58 L303.00,73.54 L303.50,73.50" stroke="#ff00ff"/>
</g>
<path d="M180.85,17.48H304.70V124.00H180.85Z" fill="none" stroke="#000" stroke-linejoin="round" stroke-width="2.30"/>
<path d="M207.10,124.00V121.00 M233.10,124.00V121.00 M259.10,124.00V121.00 M285.10,124.00V121.00 M180.85,36.35H184.00 M180.85,67.60H184.00 M180.85,98.85H184.00" stroke="#000" stroke-width="2.1" stroke-linecap="round" fill="none"/>
<g font-family="Liberation Sans, sans-serif" font-weight="bold" font-size="11" fill="#000">
<text x="181.10" y="136" text-anchor="middle">0</text>
<text x="207.10" y="136" text-anchor="middle">100</text>
<text x="233.10" y="136" text-anchor="middle">200</text>
<text x="259.10" y="136" text-anchor="middle">300</text>
<text x="285.10" y="136" text-anchor="middle">400</text>
<text x="177.3" y="39.35" text-anchor="end">100</text>
<text x="177.3" y="70.60" text-anchor="end">75</text>
<text x="177.3" y="101.85" text-anchor="end">50</text>
</g>
<text transform="translate(155.5,70.8) rotate(-90)" text-anchor="middle" font-family="Liberation Sans, sans-serif" font-weight="bold" font-size="13" fill="#000">Weight (%)</text>
<g font-family="Liberation Sans, sans-serif" fill="#000"><text x="229.0" y="150.2" font-weight="bold" font-size="11">t</text><text x="235.4" y="150.1" font-size="11.5">(</text><text x="238.4" y="153.1" font-size="15.5">°</text><text x="243.6" y="150.2" font-weight="bold" font-size="11">C</text><text x="253.5" y="150.1" font-size="11.5">)</text></g>
<path d="M196.3,67.40H215.8" stroke="#000000" stroke-width="1.6"/>
<text x="217.4" y="70.70" font-family="Liberation Sans, sans-serif" font-size="8.2" fill="#000">0.10</text>
<path d="M196.3,77.73H215.8" stroke="#ff0000" stroke-width="1.6"/>
<text x="217.4" y="81.03" font-family="Liberation Sans, sans-serif" font-size="8.2" fill="#000">0.05</text>
<path d="M196.3,88.06H215.8" stroke="#0000ff" stroke-width="1.6"/>
<text x="217.4" y="91.36" font-family="Liberation Sans, sans-serif" font-size="8.2" fill="#000">0.02</text>
<path d="M196.3,98.39H215.8" stroke="#008080" stroke-width="1.6"/>
<text x="217.4" y="101.69" font-family="Liberation Sans, sans-serif" font-size="8.2" fill="#000">0.01</text>
<path d="M196.3,108.72H215.8" stroke="#ff00ff" stroke-width="1.6"/>
<text x="217.4" y="112.02" font-family="Liberation Sans, sans-serif" font-size="8.2" fill="#000">0.005</text>
</svg>
</body></html>
